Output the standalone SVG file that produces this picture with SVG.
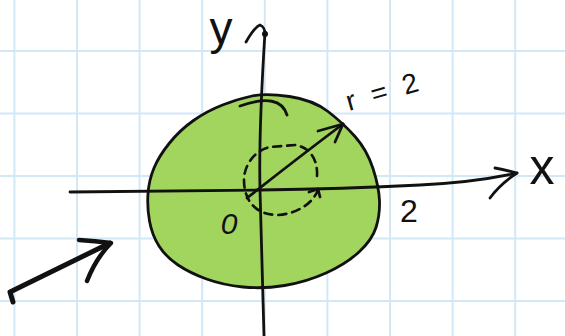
<svg xmlns="http://www.w3.org/2000/svg" width="565" height="336" viewBox="0 0 565 336">
<style>
.grid line{stroke:#d3e8f7;stroke-width:2}
.ink{fill:none;stroke:#111;stroke-width:2.8;stroke-linecap:round;stroke-linejoin:round}
.dash{fill:none;stroke:#111;stroke-width:2.6;stroke-dasharray:8 6;stroke-linecap:round}
.lbl{font-family:"Liberation Sans","DejaVu Sans",sans-serif;fill:#111}
</style>
<rect width="565" height="336" fill="#ffffff"/>
<g id="grid" class="grid">
<line x1="14.4" y1="0" x2="14.4" y2="336"/>
<line x1="77" y1="0" x2="77" y2="336"/>
<line x1="139.6" y1="0" x2="139.6" y2="336"/>
<line x1="202.2" y1="0" x2="202.2" y2="336"/>
<line x1="264.8" y1="0" x2="264.8" y2="336"/>
<line x1="327.4" y1="0" x2="327.4" y2="336"/>
<line x1="390" y1="0" x2="390" y2="336"/>
<line x1="452.6" y1="0" x2="452.6" y2="336"/>
<line x1="515.2" y1="0" x2="515.2" y2="336"/>
<line x1="0" y1="51" x2="565" y2="51"/>
<line x1="0" y1="113.5" x2="565" y2="113.5"/>
<line x1="0" y1="176" x2="565" y2="176"/>
<line x1="0" y1="238.5" x2="565" y2="238.5"/>
<line x1="0" y1="301" x2="565" y2="301"/>
</g>
<g id="disk">
<path fill="#a2d55e" d="M 252,96 Q 266,93 289.5,96.5 Q 313,100 328,111.5 Q 343,123 355,136.5 Q 367,150 373,168.5 Q 379,187 379.5,201 Q 380,215 376,227.5 Q 372,240 359,252 Q 346,264 326,273 Q 306,282 284.5,285.5 Q 263,289 243,287 Q 223,285 206.5,279 Q 190,273 178,265 Q 166,257 159,246 Q 152,235 149.5,221 Q 147,207 148,193.5 Q 149,180 154,168 Q 159,156 169.5,143 Q 180,130 193.5,120.5 Q 207,111 222.5,105 Q 238,99 252,96 Z"/>
<path class="ink" d="M 252,96 Q 266,93 289.5,96.5 Q 313,100 328,111.5 Q 343,123 355,136.5 Q 367,150 373,168.5 Q 379,187 379.5,201 Q 380,215 376,227.5 Q 372,240 359,252 Q 346,264 326,273 Q 306,282 284.5,285.5 Q 263,289 243,287 Q 223,285 206.5,279 Q 190,273 178,265 Q 166,257 159,246 Q 152,235 149.5,221 Q 147,207 148,193.5 Q 149,180 154,168 Q 159,156 169.5,143 Q 180,130 193.5,120.5 Q 207,111 222.5,105 Q 238,99 252,96 Z"/>
<path class="ink" d="M 240,106 Q 280,92 287,115"/>
</g>
<g id="axes">
<path class="ink" d="M 265,32 C 262,80 259,150 260,190 C 261,240 263,290 264,336"/>
<path class="ink" d="M 246,42 C 250,35 255,27 260,25 C 263,26 265,30 265,34"/>
<circle cx="265" cy="34" r="3" fill="#111"/>
<path class="ink" d="M 70,192 C 150,191 220,190 260,190 C 330,189 380,187 420,185 C 460,183 490,179 517,173"/>
<path class="ink" d="M 495,168 Q 506,170 517,173 Q 500,184 490,198"/>
</g>
<g id="radius">
<path class="ink" d="M 247,198 C 280,172 315,145 343,124"/>
<path class="ink" d="M 318,131 L 343,124 L 335,142"/>
</g>
<g id="rotation">
<path class="dash" d="M 317,176 C 318,160 310,147 295,145 L 270,147 C 255,150 244,165 244,180 C 244,200 255,215 278,215 C 295,214 312,205 318,190"/>
<path class="ink" d="M 309,192 L 318,189 L 320,197"/>
</g>
<g id="pointer">
<path fill="none" stroke="#111" stroke-width="5" stroke-linecap="round" stroke-linejoin="round" d="M 13,302 L 10,292 L 110,243"/>
<path fill="none" stroke="#111" stroke-width="4.5" stroke-linecap="round" stroke-linejoin="round" d="M 79,240 Q 95,241 111,243 Q 96,258 87,281"/>
</g>
<g id="labels">
<text class="lbl" x="221" y="44" font-size="46" text-anchor="middle">y</text>
<text class="lbl" x="542" y="184" font-size="50" text-anchor="middle">x</text>
<text class="lbl" x="229" y="234" font-size="30" font-style="italic" text-anchor="middle">0</text>
<text class="lbl" x="409" y="222" font-size="32" text-anchor="middle">2</text>
<text class="lbl" x="349" y="111" font-size="28" textLength="74" lengthAdjust="spacing" transform="rotate(-16 349 111)">r=2</text>
</g>
</svg>
